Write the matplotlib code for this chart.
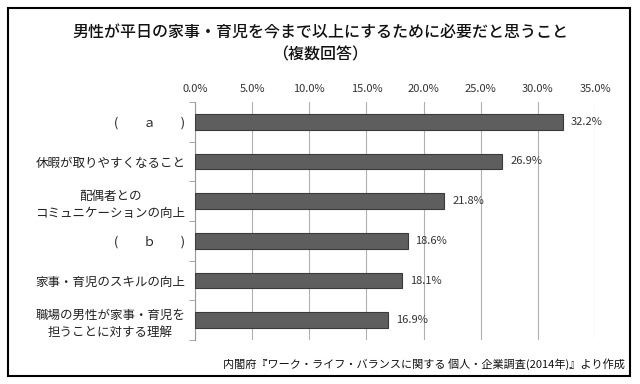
import matplotlib.pyplot as plt
from matplotlib.patches import Rectangle
import numpy as np

plt.rcParams['font.family'] = ['Noto Sans CJK JP', 'DejaVu Sans']

labels = ['(　　ａ　　)', '休暇が取りやすくなること', '配偶者との\nコミュニケーションの向上',
          '(　　ｂ　　)', '家事・育児のスキルの向上', '職場の男性が家事・育児を\n担うことに対する理解']
values = [32.2, 26.9, 21.8, 18.6, 18.1, 16.9]
xticks = [0, 5, 10, 15, 20, 25, 30, 35]

fig = plt.figure(figsize=(6.4, 3.84), dpi=100)
fig.patches.append(Rectangle((8/640, 1 - 376/384), 622/640, 368/384, transform=fig.transFigure,
                             fill=False, edgecolor='black', linewidth=1.5))

ax = fig.add_axes([195/640, 1 - 340/384, 400/640, 238/384])
y = np.arange(len(values))
ax.barh(y, values, height=0.4, color='#5e5e5e', edgecolor='#3a3a3a', linewidth=0.8, zorder=3)
for yi, v in zip(y, values):
    ax.text(v + 0.7, yi, f'{v:.1f}%', va='center', ha='left', fontsize=8, color='#333333')

ax.set_xlim(0, 35)
ax.set_ylim(len(values) - 0.5, -0.5)
ax.set_xticks(xticks)
ax.set_xticklabels([f'{t:.1f}%' for t in xticks], fontsize=8, color='#333333')
ax.xaxis.tick_top()
ax.tick_params(axis='x', length=0, pad=6)
ax.grid(axis='x', color='#b0b0b0', linewidth=0.8, zorder=0)

ax.set_yticks(y)
ax.set_yticklabels(labels, fontsize=9, color='#222222', ha='right', multialignment='center',
                   linespacing=1.4)
ax.tick_params(axis='y', length=0, pad=7)
ax.set_yticks(np.arange(-0.5, len(values)), minor=True)
ax.tick_params(axis='y', which='minor', length=4, color='#999999')

for s in ['top', 'right', 'bottom']:
    ax.spines[s].set_visible(False)
ax.spines['left'].set_color('#999999')

fig.text(0.5, 1 - 33/384, '男性が平日の家事・育児を今まで以上にするために必要だと思うこと',
         ha='center', va='center', fontsize=11.5, color='#111111', weight='medium')
fig.text(0.5, 1 - 55/384, '（複数回答）', ha='center', va='center', fontsize=11.5, color='#111111',
         weight='medium')
fig.text(625/640, 1 - 364/384, '内閣府『ワーク・ライフ・バランスに関する 個人・企業調査(2014年)』より作成',
         ha='right', va='center', fontsize=8, color='#111111')

fig.savefig('out.png', dpi=100)
